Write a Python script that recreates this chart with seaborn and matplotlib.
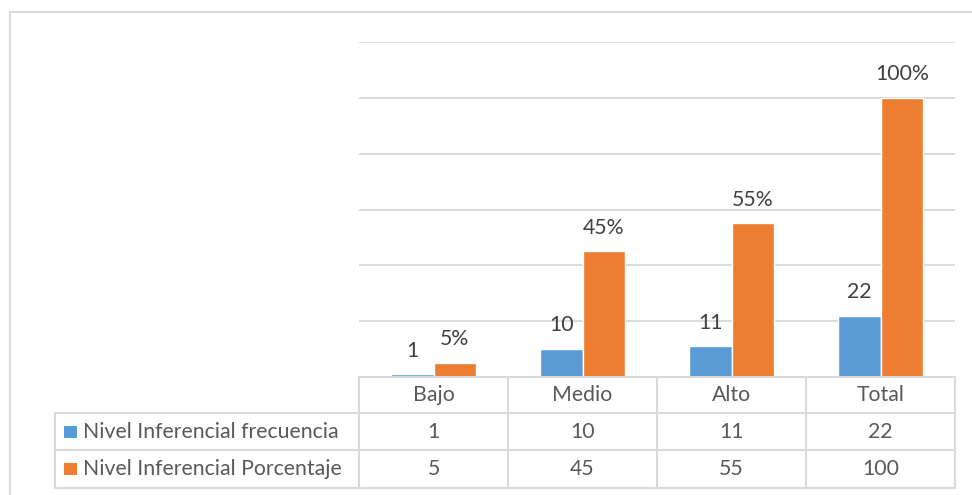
import pandas as pd
import matplotlib
matplotlib.use('Agg')
import matplotlib.pyplot as plt
import seaborn as sns
from matplotlib.lines import Line2D
from matplotlib.patches import Rectangle

categorias = ['Bajo', 'Medio', 'Alto', 'Total']
frecuencia = [1, 10, 11, 22]
porcentaje = [5, 45, 55, 100]
series = ['Nivel Inferencial frecuencia', 'Nivel Inferencial Porcentaje']
colores = ['#5B9BD5', '#ED7D31']

sns.set_theme(style='white')
plt.rcParams['font.family'] = ['Lato', 'DejaVu Sans']

df = pd.DataFrame({
    'categoria': categorias * 2,
    'valor': frecuencia + porcentaje,
    'serie': [series[0]] * 4 + [series[1]] * 4,
})

W, H = 972, 495
fig = plt.figure(figsize=(W / 100, H / 100), dpi=100)
FS = 15.3

def fx(px):
    return px / W

def fy(py):
    return 1 - py / H

x0, x1, y_top, y_bot = 359, 955, 42, 377
ax = fig.add_axes([fx(x0), fy(y_bot), fx(x1) - fx(x0), fy(y_top) - fy(y_bot)])
sns.barplot(data=df, x='categoria', y='valor', hue='serie', order=categorias,
            hue_order=series, palette=colores, width=0.57, saturation=1,
            ax=ax, legend=False)
ax.set_xlim(-0.5, 3.5)
ax.set_ylim(0, 120)
ax.set_yticks(range(0, 121, 20))
ax.yaxis.grid(True, color='#d9d9d9', linewidth=1.3)
ax.set_axisbelow(True)
ax.tick_params(left=False, bottom=False, labelleft=False, labelbottom=False)
for s in ax.spines.values():
    s.set_visible(False)
ax.set_xlabel('')
ax.set_ylabel('')

# etiquetas de datos
for cont, fmt in zip(ax.containers, ['{:.0f}', '{:.0f}%']):
    for bar, v in zip(cont, cont.datavalues):
        ax.annotate(fmt.format(v), (bar.get_x() + bar.get_width() / 2, bar.get_height()),
                    xytext=(0, 17), textcoords='offset points', ha='center', va='center',
                    fontsize=FS, color='#404040')

# tabla de datos debajo del grafico
gris = '#d9d9d9'
lw = 1.5
cols = [359, 508, 657, 806, 955]
rows = [377, 413, 450, 488]
leg_x = 55

def hline(y, xa, xb):
    fig.add_artist(Line2D([fx(xa), fx(xb)], [fy(y), fy(y)], color=gris, lw=lw))

def vline(x, ya, yb):
    fig.add_artist(Line2D([fx(x), fx(x)], [fy(ya), fy(yb)], color=gris, lw=lw))

hline(rows[0], cols[0], cols[-1])
for r in rows[1:]:
    hline(r, leg_x, cols[-1])
for c in cols:
    vline(c, rows[0], rows[-1])
vline(leg_x, rows[1], rows[-1])

for i, cat in enumerate(categorias):
    cx = (cols[i] + cols[i + 1]) / 2
    fig.text(fx(cx), fy((rows[0] + rows[1]) / 2), cat, ha='center', va='center',
             fontsize=FS, color='#595959')
    for j, vals in enumerate([frecuencia, porcentaje]):
        fig.text(fx(cx), fy((rows[j + 1] + rows[j + 2]) / 2), str(vals[i]),
                 ha='center', va='center', fontsize=FS, color='#595959')

for j, (nombre, col) in enumerate(zip(series, colores)):
    cy = (rows[j + 1] + rows[j + 2]) / 2
    fig.add_artist(Rectangle((fx(64), fy(cy + 6)), fx(13), fy(cy - 6) - fy(cy + 6),
                             color=col, lw=0))
    fig.text(fx(83), fy(cy), nombre, ha='left', va='center', fontsize=FS, color='#595959')

# borde del area del grafico
hline(12, 10, 972)
vline(10, 12, 495)

fig.savefig('out.png', dpi=100)
